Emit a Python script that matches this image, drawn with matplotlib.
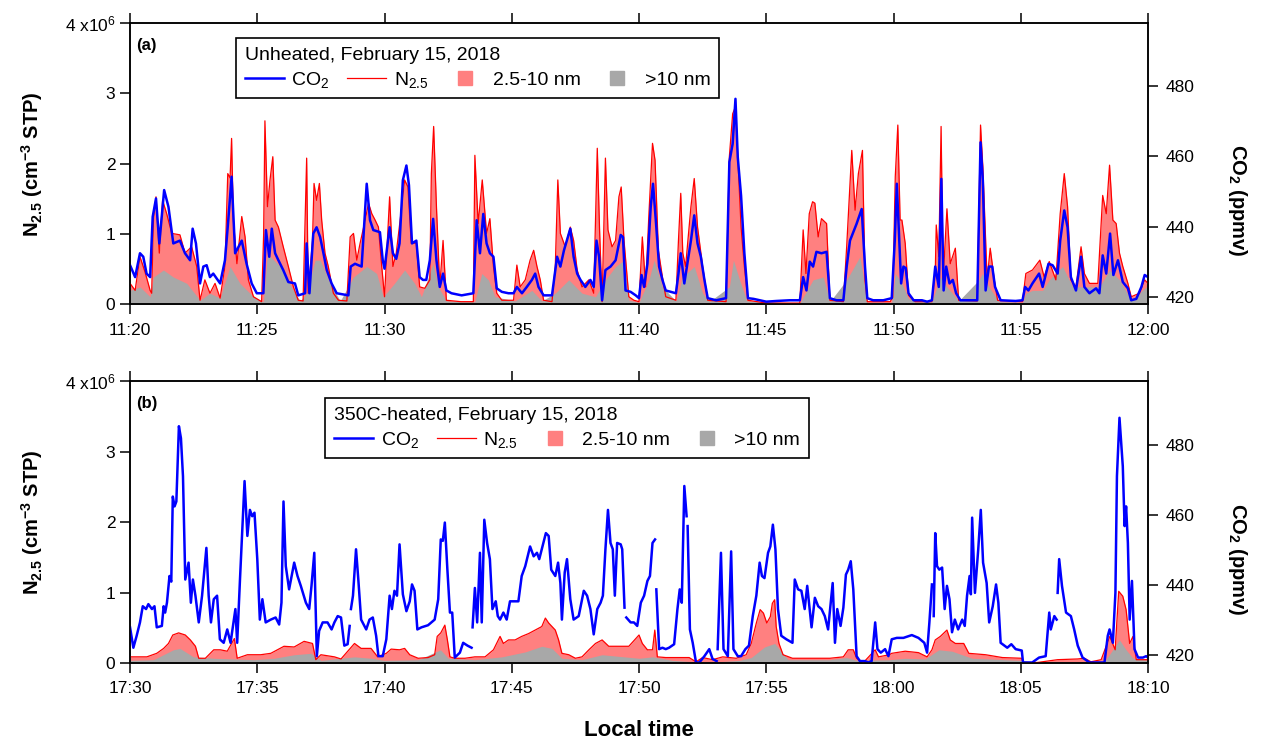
import numpy as np
import matplotlib
matplotlib.use("Agg")
import matplotlib.pyplot as plt
from matplotlib.lines import Line2D
from matplotlib.ticker import FuncFormatter, MultipleLocator

plt.rcParams['font.family'] = ['Liberation Sans', 'DejaVu Sans']
plt.rcParams['mathtext.fontset'] = 'custom'
plt.rcParams['mathtext.rm'] = 'Liberation Sans'
plt.rcParams['mathtext.bf'] = 'Liberation Sans:bold'
plt.rcParams['mathtext.default'] = 'regular'

NA = float('nan')

# (minutes after panel start, value); CO2 in ppmv, number conc. in 1e6 cm-3 STP
START_A = (11, 20)
START_B = (17, 30)
TITLE_A = "Unheated, February 15, 2018"
TITLE_B = "350C-heated, February 15, 2018"

CO2_A = [
    (0, 429.0), (0.20, 425.6), (0.39, 432.4), (0.52, 431.4), (0.65, 426.6), (0.79, 425.6),
    (0.89, 442.8), (1.02, 448.0), (1.15, 435.2), (1.34, 450.4), (1.51, 445.6), (1.70, 435.2),
    (1.96, 436.0), (2.16, 432.4), (2.36, 430.4), (2.46, 439.4), (2.59, 435.2), (2.75, 423.8),
    (2.88, 428.6), (3.01, 429.0), (3.14, 425.6), (3.27, 426.6), (3.54, 423.8), (3.73, 430.4),
    (3.86, 441.8), (3.99, 454.2), (4.13, 432.4), (4.39, 436.0), (4.58, 429.4), (4.78, 423.8),
    (4.98, 421.0), (5.24, 421.0), (5.34, 439.0), (5.47, 431.4), (5.57, 439.4), (5.70, 432.4),
    (5.83, 430.4), (6.02, 427.6), (6.22, 424.2), (6.48, 423.8), (6.61, 420.4), (6.88, 421.0),
    (6.94, 435.2), (7.05, 421.0), (7.20, 438.0), (7.33, 439.8), (7.47, 437.0), (7.60, 432.4),
    (7.73, 427.6), (7.92, 423.8), (8.12, 421.0), (8.58, 420.4), (8.67, 428.6), (8.84, 429.4),
    (9.10, 428.6), (9.30, 452.2), (9.43, 441.8), (9.56, 439.0), (9.82, 438.4), (9.93, 430.4),
    (10.0, 428.0), (10.2, 439.8), (10.33, 432.4), (10.46, 430.8), (10.59, 435.2), (10.72, 453.2),
    (10.86, 457.4), (10.96, 451.8), (11.08, 435.2), (11.25, 436.0), (11.38, 425.6), (11.51, 424.8),
    (11.64, 424.8), (11.78, 430.4), (11.91, 442.2), (12.04, 430.4), (12.17, 422.8), (12.30, 426.6),
    (12.43, 421.8), (12.63, 421.0), (13.03, 420.4), (13.49, 421.0), (13.62, 441.8), (13.75, 432.4),
    (13.88, 443.6), (14.01, 435.2), (14.14, 432.4), (14.28, 431.4), (14.41, 422.4), (14.61, 421.4),
    (14.87, 421.0), (15.07, 421.0), (15.20, 422.8), (15.40, 421.0), (15.59, 422.8), (15.79, 424.8),
    (15.92, 426.6), (16.05, 422.8), (16.25, 420.4), (16.58, 420.4), (16.78, 431.4), (16.91, 428.6),
    (17.05, 433.2), (17.30, 439.4), (17.43, 431.4), (17.57, 426.6), (17.70, 424.8), (17.89, 422.8),
    (18.09, 424.8), (18.22, 422.8), (18.33, 436.0), (18.43, 431.4), (18.55, 419.0), (18.68, 427.6),
    (18.88, 428.6), (19.08, 430.4), (19.28, 437.6), (19.37, 437.0), (19.47, 421.8), (19.67, 421.4),
    (19.87, 420.4), (20.0, 419.6), (20.1, 426.2), (20.2, 422.8), (20.33, 429.4), (20.46, 445.6),
    (20.55, 452.2), (20.66, 441.8), (20.79, 428.6), (20.92, 424.8), (21.05, 421.8), (21.25, 421.4),
    (21.45, 421.0), (21.55, 426.6), (21.64, 432.4), (21.78, 423.8), (21.90, 429.4), (22.04, 436.0),
    (22.17, 443.2), (22.30, 435.2), (22.43, 431.4), (22.57, 424.8), (22.70, 419.6), (23.03, 419.0),
    (23.42, 419.6), (23.55, 458.4), (23.68, 463.6), (23.79, 476.4), (23.88, 459.8), (24.01, 448.8),
    (24.14, 432.4), (24.28, 419.6), (24.5, 419.4), (25.0, 418.6), (25.4, 418.8), (25.92, 419.0),
    (26.32, 419.0), (26.45, 425.6), (26.58, 421.8), (26.71, 430.0), (26.84, 428.6), (26.97, 432.8),
    (27.17, 432.4), (27.37, 432.8), (27.50, 419.6), (27.76, 419.0), (28.03, 419.0), (28.16, 428.6),
    (28.29, 436.0), (28.45, 439.0), (28.55, 440.8), (28.75, 445.0), (28.88, 428.6), (28.97, 419.6),
    (29.2, 419.0), (29.6, 419.0), (29.93, 419.6), (30.05, 436.0), (30.13, 452.2), (30.22, 437.0),
    (30.30, 423.8), (30.39, 428.6), (30.48, 428.2), (30.59, 421.0), (30.79, 419.0), (31.12, 419.0),
    (31.32, 418.6), (31.51, 419.0), (31.64, 428.6), (31.78, 422.8), (31.88, 453.6), (31.97, 421.8),
    (32.07, 428.6), (32.20, 423.8), (32.33, 424.8), (32.46, 421.0), (32.63, 419.0), (33.09, 419.0),
    (33.29, 419.0), (33.42, 464.0), (33.51, 453.2), (33.62, 421.8), (33.75, 428.6), (33.88, 428.6),
    (33.99, 422.8), (34.21, 419.0), (34.8, 418.8), (35.07, 419.0), (35.17, 422.8), (35.30, 421.8),
    (35.46, 423.8), (35.72, 426.6), (35.86, 422.8), (36.09, 429.4), (36.25, 429.0), (36.45, 426.6),
    (36.55, 436.0), (36.71, 444.6), (36.84, 439.8), (36.97, 425.6), (37.17, 421.8), (37.37, 431.4),
    (37.50, 422.8), (37.70, 421.0), (37.96, 422.4), (38.09, 421.0), (38.22, 431.8), (38.36, 426.6),
    (38.51, 438.0), (38.64, 426.2), (38.82, 430.4), (39.01, 424.2), (39.21, 422.4), (39.34, 419.0),
    (39.54, 419.4), (39.74, 422.8), (39.87, 426.2), (40.0, 425.6),
]

N25_A = [
    (0, 0.30), (0.2, 0.20), (0.39, 0.68), (0.59, 0.46), (0.79, 0.20), (0.85, 0.16), (0.92, 1.20),
    (1.02, 1.53), (1.15, 0.73), (1.28, 1.48), (1.44, 1.29), (1.64, 1.01), (1.96, 0.99), (2.16, 0.73),
    (2.42, 0.82), (2.62, 0.54), (2.75, 0.06), (2.94, 0.35), (3.14, 0.16), (3.34, 0.30), (3.54, 0.09),
    (3.73, 0.54), (3.84, 1.86), (3.93, 1.80), (3.99, 2.36), (4.06, 1.20), (4.20, 0.58), (4.39, 1.25),
    (4.52, 0.96), (4.65, 0.35), (4.85, 0.11), (5.17, 0.04), (5.25, 1.00), (5.30, 2.61), (5.40, 1.39),
    (5.50, 1.77), (5.61, 2.10), (5.70, 1.20), (5.83, 1.10), (6.02, 0.82), (6.22, 0.54), (6.42, 0.25),
    (6.61, 0.06), (6.80, 0.05), (6.94, 2.08), (7.00, 0.16), (7.17, 0.91), (7.23, 1.72), (7.33, 1.48),
    (7.44, 1.72), (7.53, 1.20), (7.66, 0.73), (7.79, 0.54), (7.99, 0.16), (8.19, 0.06), (8.52, 0.05),
    (8.65, 0.96), (8.78, 1.01), (8.91, 0.63), (9.04, 0.87), (9.24, 1.20), (9.37, 1.44), (9.50, 1.29),
    (9.63, 1.20), (9.76, 1.10), (9.89, 0.54), (10.0, 0.11), (10.2, 1.53), (10.33, 0.54), (10.46, 0.73),
    (10.66, 1.34), (10.79, 1.77), (10.92, 1.67), (11.05, 0.87), (11.25, 0.87), (11.38, 0.25),
    (11.58, 0.23), (11.78, 0.35), (11.84, 1.86), (11.93, 2.53), (12.04, 1.39), (12.17, 0.25),
    (12.30, 0.91), (12.43, 0.06), (13.0, 0.04), (13.49, 0.04), (13.55, 2.12), (13.68, 1.15),
    (13.84, 1.77), (14.01, 1.01), (14.14, 1.22), (14.28, 0.54), (14.41, 0.16), (14.61, 0.06),
    (15.07, 0.06), (15.20, 0.56), (15.33, 0.25), (15.53, 0.35), (15.72, 0.63), (15.86, 0.77),
    (15.99, 0.54), (16.12, 0.35), (16.25, 0.06), (16.58, 0.04), (16.71, 0.54), (16.81, 1.77),
    (16.91, 1.01), (17.10, 0.82), (17.30, 1.10), (17.43, 0.91), (17.57, 0.49), (17.76, 0.25),
    (18.03, 0.35), (18.22, 0.16), (18.36, 2.22), (18.45, 1.06), (18.55, 0.04), (18.68, 2.08),
    (18.78, 1.06), (18.94, 0.82), (19.08, 0.91), (19.21, 1.53), (19.30, 1.67), (19.41, 0.91),
    (19.60, 0.11), (19.80, 0.06), (20.0, 0.04), (20.13, 0.96), (20.26, 0.25), (20.39, 1.29),
    (20.53, 2.29), (20.63, 2.05), (20.76, 0.77), (20.92, 0.39), (21.05, 0.11), (21.45, 0.06),
    (21.55, 0.91), (21.64, 1.58), (21.72, 0.73), (21.83, 0.54), (22.04, 1.39), (22.17, 1.79),
    (22.30, 1.10), (22.50, 0.54), (22.70, 0.06), (23.42, 0.04), (23.55, 2.10), (23.68, 2.71),
    (23.79, 2.81), (23.88, 2.10), (24.01, 1.10), (24.14, 0.54), (24.28, 0.06), (25.0, 0.02),
    (26.32, 0.02), (26.45, 1.06), (26.56, 0.44), (26.69, 1.29), (26.82, 1.46), (26.91, 1.44),
    (27.04, 0.96), (27.17, 1.22), (27.37, 1.15), (27.50, 0.06), (28.03, 0.04), (28.16, 0.82),
    (28.36, 2.19), (28.49, 1.34), (28.62, 1.86), (28.78, 2.19), (28.88, 0.35), (28.97, 0.04),
    (29.87, 0.04), (29.97, 0.10), (30.07, 1.82), (30.17, 2.55), (30.26, 1.20), (30.33, 1.20),
    (30.46, 0.87), (30.59, 0.13), (30.85, 0.04), (31.51, 0.04), (31.64, 0.44), (31.68, 1.13),
    (31.78, 0.68), (31.87, 2.53), (31.95, 0.35), (32.10, 1.36), (32.23, 0.58), (32.43, 0.80),
    (32.56, 0.06), (33.29, 0.05), (33.42, 2.55), (33.51, 1.96), (33.68, 0.35), (33.80, 0.80),
    (33.96, 0.35), (34.09, 0.06), (35.07, 0.04), (35.20, 0.44), (35.46, 0.49), (35.75, 0.63),
    (35.92, 0.39), (36.12, 0.61), (36.38, 0.35), (36.55, 1.29), (36.71, 1.86), (36.84, 1.39),
    (36.97, 0.35), (37.17, 0.25), (37.37, 0.82), (37.50, 0.44), (37.70, 0.30), (38.03, 0.30),
    (38.22, 1.55), (38.36, 1.29), (38.49, 1.98), (38.62, 1.20), (38.75, 1.15), (38.88, 0.73),
    (39.01, 0.54), (39.21, 0.30), (39.34, 0.11), (39.67, 0.16), (39.87, 0.35), (40.0, 0.30),
]

N10_A = [
    (0, 0.20), (0.39, 0.25), (0.79, 0.11), (0.92, 0.39), (1.31, 0.49), (1.70, 0.39), (2.23, 0.30),
    (2.75, 0.06), (3.14, 0.16), (3.54, 0.09), (3.93, 0.54), (4.32, 0.30), (4.85, 0.11), (5.24, 0.04),
    (5.40, 0.72), (5.90, 0.54), (6.42, 0.20), (6.68, 0.05), (6.94, 0.16), (7.27, 0.63), (7.47, 0.63),
    (7.86, 0.30), (8.26, 0.05), (8.78, 0.39), (9.30, 0.54), (9.69, 0.44), (9.95, 0.11), (10.39, 0.30),
    (10.79, 0.49), (11.18, 0.30), (11.45, 0.11), (11.91, 0.58), (12.11, 0.25), (12.43, 0.05),
    (13.55, 0.04), (13.82, 0.44), (14.08, 0.35), (14.34, 0.11), (15.13, 0.05), (15.79, 0.20),
    (16.18, 0.05), (16.71, 0.16), (17.24, 0.35), (17.76, 0.16), (18.29, 0.11), (18.68, 0.35),
    (19.08, 0.54), (19.41, 0.63), (19.60, 0.06), (20.0, 0.03), (20.39, 0.35), (20.59, 0.63),
    (20.92, 0.25), (21.45, 0.05), (21.71, 0.39), (22.17, 0.54), (22.50, 0.16), (22.76, 0.04),
    (23.55, 0.25), (23.71, 0.63), (23.95, 0.35), (24.24, 0.05), (26.32, 0.02), (26.84, 0.35),
    (27.24, 0.39), (27.50, 0.04), (28.16, 0.35), (28.68, 0.68), (28.97, 0.03), (29.93, 0.03),
    (30.07, 0.44), (30.33, 0.30), (30.59, 0.08), (31.51, 0.04), (31.84, 0.39), (32.10, 0.25),
    (32.56, 0.05), (33.36, 0.35), (33.49, 0.44), (33.75, 0.25), (34.14, 0.04), (35.07, 0.03),
    (35.20, 0.16), (35.46, 0.20), (35.86, 0.20), (36.12, 0.35), (36.64, 0.54), (37.04, 0.25),
    (37.57, 0.25), (38.09, 0.25), (38.49, 0.49), (38.88, 0.35), (39.34, 0.06), (39.93, 0.25),
    (40.0, 0.11),
]

CO2_B = [
    (0, 428.0), (0.13, 422.2), (0.26, 425.6), (0.39, 429.4), (0.50, 434.0), (0.63, 433.2),
    (0.72, 434.6), (0.86, 433.2), (0.96, 434.0), (1.05, 428.0), (1.25, 428.4), (1.32, 434.0),
    (1.38, 432.2), (1.45, 435.0), (1.55, 442.6), (1.62, 441.0), (1.68, 465.2), (1.75, 462.4),
    (1.82, 463.8), (1.92, 485.2), (2.00, 481.8), (2.08, 471.0), (2.17, 441.6), (2.30, 446.4),
    (2.39, 435.0), (2.47, 441.6), (2.57, 437.0), (2.70, 429.4), (2.83, 437.0), (3.00, 450.6),
    (3.09, 437.0), (3.18, 429.4), (3.29, 436.0), (3.42, 437.0), (3.53, 424.6), (3.68, 423.6),
    (3.82, 427.4), (3.95, 423.6), (4.14, 433.2), (4.21, 423.6), (4.32, 441.6), (4.50, 469.6),
    (4.61, 454.0), (4.71, 461.4), (4.80, 459.6), (4.89, 460.6), (5.00, 447.4), (5.10, 430.2),
    (5.20, 436.0), (5.33, 429.4), (5.53, 430.2), (5.72, 430.8), (5.86, 428.8), (5.95, 435.0),
    (6.03, 463.8), (6.12, 445.4), (6.25, 438.8), (6.45, 446.4), (6.58, 442.6), (6.71, 439.8),
    (6.91, 435.0), (7.04, 433.2), (7.13, 439.8), (7.24, 449.2), (7.34, 419.8), (7.43, 427.0),
    (7.57, 429.4), (7.76, 429.4), (7.92, 427.4), (8.03, 429.4), (8.16, 431.2), (8.29, 430.8),
    (8.42, 422.8), (8.55, 423.2), (8.63, 428.4), (8.65, NA),
    (8.68, 433.2), (8.76, 437.0), (8.88, 450.2), (8.97, 441.6), (9.08, 430.2), (9.28, 427.4),
    (9.41, 430.2), (9.54, 430.8), (9.67, 425.6), (9.76, 419.8), (9.93, 419.8), (10.07, 424.6),
    (10.20, 437.0), (10.29, 433.2), (10.39, 438.4), (10.49, 437.0), (10.59, 451.6), (10.72, 437.4),
    (10.86, 432.6), (10.99, 435.4), (11.08, 440.2), (11.18, 438.4), (11.29, 427.4), (11.45, 428.0),
    (11.71, 428.6), (11.97, 430.2), (12.11, 436.0), (12.21, 453.0), (12.29, 452.6), (12.37, 457.8),
    (12.47, 444.4), (12.57, 432.2), (12.66, 432.2), (12.76, 419.4), (12.96, 420.8), (13.09, 423.6),
    (13.26, 422.8), (13.42, 422.2), (13.44, NA),
    (13.46, 428.0), (13.55, 439.2), (13.64, 429.4), (13.75, 449.2), (13.82, 429.4), (13.92, 458.6),
    (14.03, 452.0), (14.14, 447.4), (14.24, 433.2), (14.37, 435.4), (14.45, 431.2), (14.54, 430.2),
    (14.67, 432.2), (14.80, 430.2), (14.93, 435.4), (15.13, 435.4), (15.26, 435.4), (15.39, 442.6),
    (15.53, 445.4), (15.72, 451.0), (15.86, 448.2), (15.99, 449.2), (16.08, 447.4), (16.18, 450.2),
    (16.34, 454.8), (16.45, 454.0), (16.55, 444.4), (16.71, 442.6), (16.82, 446.4), (16.91, 440.6),
    (16.97, 430.2), (17.08, 443.6), (17.17, 447.4), (17.30, 436.0), (17.43, 430.2), (17.63, 431.2),
    (17.83, 438.4), (17.96, 437.0), (18.09, 433.2), (18.22, 426.0), (18.36, 433.2), (18.49, 435.0),
    (18.58, 437.0), (18.68, 450.2), (18.78, 461.4), (18.88, 452.0), (18.97, 450.2), (19.05, 437.0),
    (19.14, 452.0), (19.28, 451.6), (19.34, 450.2), (19.43, 433.6), (19.46, NA),
    (19.50, 430.8), (19.67, 429.4), (19.80, 429.4), (19.93, 428.4), (20.07, 435.0), (20.20, 437.0),
    (20.33, 441.2), (20.43, 442.6), (20.53, 452.0), (20.63, 453.0), (20.65, NA),
    (20.68, 438.8), (20.79, 421.8), (20.92, 422.2), (21.05, 421.8), (21.18, 422.2), (21.38, 423.2),
    (21.51, 433.2), (21.60, 438.8), (21.68, 435.0), (21.78, 468.2), (21.87, 459.6), (21.89, NA),
    (21.91, 456.8), (22.00, 427.4), (22.11, 423.6), (22.24, 418.0), (22.37, 418.0), (22.57, 419.8),
    (22.76, 421.8), (22.89, 419.0), (23.05, 418.4), (23.07, NA),
    (23.09, 421.8), (23.22, 449.2), (23.32, 421.8), (23.49, 419.8), (23.62, 449.6), (23.71, 421.8),
    (23.88, 419.8), (24.01, 419.8), (24.18, 421.8), (24.32, 422.8), (24.47, 431.2), (24.61, 437.0),
    (24.74, 446.4), (24.83, 442.6), (24.93, 442.0), (25.07, 449.2), (25.16, 451.0), (25.26, 457.2),
    (25.36, 450.2), (25.46, 433.2), (25.59, 425.6), (25.79, 424.6), (26.03, 423.6), (26.12, 441.6),
    (26.25, 438.8), (26.38, 438.4), (26.51, 433.2), (26.61, 439.8), (26.78, 428.0), (26.91, 436.4),
    (27.04, 434.0), (27.17, 433.2), (27.30, 431.2), (27.43, 427.4), (27.61, 440.6), (27.70, 423.6),
    (27.79, 433.2), (27.92, 428.4), (28.03, 433.6), (28.13, 443.0), (28.22, 444.4), (28.32, 446.8),
    (28.42, 438.8), (28.55, 419.8), (28.68, 418.4), (28.88, 418.4), (29.01, 418.0), (29.14, 418.4),
    (29.28, 429.4), (29.37, 421.8), (29.50, 420.8), (29.67, 421.8), (29.80, 419.8), (29.93, 424.6),
    (30.13, 425.0), (30.39, 425.0), (30.72, 425.8), (30.98, 425.0), (31.21, 423.6), (31.32, 420.8),
    (31.41, 429.4), (31.51, 440.2), (31.54, NA),
    (31.58, 431.2), (31.64, 454.8), (31.71, 445.4), (31.80, 444.4), (31.91, 445.0), (32.01, 433.2),
    (32.10, 439.8), (32.20, 436.0), (32.30, 426.6), (32.41, 430.2), (32.54, 427.4), (32.70, 430.2),
    (32.80, 428.4), (32.89, 437.0), (32.99, 442.6), (33.04, 437.4), (33.09, 459.2), (33.20, 437.8),
    (33.33, 450.2), (33.43, 461.4), (33.52, 446.4), (33.66, 440.6), (33.76, 429.4), (33.90, 434.0),
    (34.03, 440.2), (34.12, 435.0), (34.21, 423.6), (34.47, 422.2), (34.63, 423.2), (34.80, 421.8),
    (35.04, 421.4), (35.09, 418.0), (35.45, 418.0), (35.72, 419.4), (35.98, 419.8), (36.12, 432.2),
    (36.18, 427.4), (36.32, 431.2), (36.41, 430.2), (36.43, NA),
    (36.45, 437.8), (36.51, 447.4), (36.62, 439.8), (36.78, 432.2), (36.97, 431.2), (37.10, 427.4),
    (37.24, 422.8), (37.43, 419.4), (37.70, 418.0), (38.29, 418.0), (38.42, 425.6), (38.49, 427.4),
    (38.62, 423.6), (38.72, 437.8), (38.78, 471.0), (38.88, 487.6), (39.01, 473.8), (39.08, 456.8),
    (39.14, 462.4), (39.21, 452.0), (39.28, 430.2), (39.37, 441.2), (39.47, 421.8), (39.61, 419.4),
    (39.80, 419.4), (39.93, 419.8), (40.0, 419.4),
]

N25_B = [
    (0, 0.09), (0.66, 0.09), (1.05, 0.14), (1.32, 0.21), (1.51, 0.28), (1.68, 0.40), (1.91, 0.43),
    (2.17, 0.40), (2.37, 0.33), (2.57, 0.24), (2.70, 0.07), (2.96, 0.07), (3.29, 0.19), (3.55, 0.19),
    (3.82, 0.17), (4.10, 0.35), (4.21, 0.07), (4.61, 0.12), (5.13, 0.12), (5.53, 0.14), (6.05, 0.24),
    (6.45, 0.23), (6.84, 0.31), (7.17, 0.28), (7.30, 0.05), (7.50, 0.12), (8.03, 0.09), (8.29, 0.06),
    (8.82, 0.28), (9.08, 0.21), (9.47, 0.21), (9.73, 0.09), (10.07, 0.14), (10.26, 0.20), (10.59, 0.19),
    (10.79, 0.21), (10.99, 0.12), (11.32, 0.07), (11.71, 0.08), (11.97, 0.12), (12.07, 0.38),
    (12.21, 0.43), (12.37, 0.54), (12.47, 0.33), (12.57, 0.09), (12.76, 0.07), (13.16, 0.07),
    (13.55, 0.09), (13.95, 0.09), (14.28, 0.19), (14.54, 0.38), (14.67, 0.28), (14.87, 0.33),
    (15.13, 0.33), (15.39, 0.38), (15.66, 0.42), (15.92, 0.47), (16.18, 0.52), (16.32, 0.64),
    (16.45, 0.57), (16.71, 0.47), (16.84, 0.33), (16.97, 0.14), (17.24, 0.12), (17.50, 0.07),
    (17.76, 0.09), (18.03, 0.19), (18.29, 0.28), (18.55, 0.33), (18.81, 0.24), (19.08, 0.24),
    (19.6, 0.24), (20.0, 0.40), (20.13, 0.28), (20.33, 0.19), (20.53, 0.19), (20.62, 0.47),
    (20.72, 0.09), (21.05, 0.08), (21.97, 0.08), (22.24, 0.02), (22.50, 0.08), (22.89, 0.05),
    (23.29, 0.09), (23.82, 0.07), (24.21, 0.12), (24.41, 0.28), (24.61, 0.57), (24.76, 0.76),
    (24.89, 0.71), (25.02, 0.57), (25.16, 0.66), (25.24, 0.85), (25.33, 0.90), (25.39, 0.52),
    (25.50, 0.28), (25.66, 0.12), (26.03, 0.07), (26.84, 0.07), (27.50, 0.07), (28.03, 0.09),
    (28.22, 0.19), (28.42, 0.19), (28.55, 0.07), (28.82, 0.01), (29.28, 0.19), (29.41, 0.09),
    (29.84, 0.12), (29.93, 0.14), (30.46, 0.17), (30.98, 0.15), (31.32, 0.09), (31.51, 0.19),
    (31.64, 0.33), (31.84, 0.38), (32.10, 0.47), (32.23, 0.33), (32.43, 0.28), (32.76, 0.28),
    (32.96, 0.14), (33.62, 0.12), (34.28, 0.08), (35.04, 0.07), (35.09, 0.01), (35.65, 0.01),
    (36.45, 0.05), (37.24, 0.06), (37.50, 0.07), (37.76, 0.02), (38.16, 0.05), (38.50, 0.38),
    (38.71, 0.19), (38.85, 1.02), (39.01, 0.95), (39.14, 0.76), (39.28, 0.28), (39.41, 0.38),
    (39.54, 0.05), (40.0, 0.05),
]

N10_B = [
    (0, 0.04), (0.92, 0.05), (1.70, 0.19), (1.96, 0.21), (2.49, 0.09), (3.29, 0.07), (4.87, 0.05),
    (5.66, 0.07), (6.45, 0.12), (7.11, 0.14), (7.50, 0.04), (8.82, 0.09), (9.47, 0.07), (10.0, 0.04),
    (11.32, 0.05), (12.20, 0.19), (12.50, 0.07), (13.55, 0.05), (14.61, 0.09), (15.53, 0.16),
    (16.18, 0.24), (16.58, 0.21), (16.97, 0.07), (17.76, 0.05), (18.55, 0.12), (20.0, 0.07),
    (20.53, 0.09), (21.32, 0.04), (22.63, 0.01), (23.95, 0.04), (24.41, 0.08), (24.93, 0.23),
    (25.33, 0.28), (25.53, 0.19), (25.86, 0.05), (27.50, 0.05), (28.16, 0.08), (28.55, 0.04),
    (29.86, 0.05), (30.46, 0.07), (31.25, 0.06), (31.78, 0.19), (32.30, 0.17), (33.09, 0.07),
    (35.04, 0.04), (35.72, 0.01), (38.29, 0.02), (38.88, 0.33), (39.14, 0.19), (39.41, 0.07),
    (40.0, 0.04),
]

PINK = '#ff8080'
GRAY = '#a8a8a8'


def clock(start, minutes):
    total = start[0] * 60 + start[1] + int(round(minutes))
    return "%d:%02d" % (total // 60, total % 60)


def left_fmt(v, pos):
    if abs(v - 4) < 1e-6:
        return r'4 x10$^{6}$'
    return "%d" % round(v)


def draw_panel(ax, start, co2, n25, n10, title, tag, legend_xy):
    t25, v25 = np.array(n25).T
    t10, v10 = np.array(n10).T
    tc, vc = np.array(co2).T

    ax.fill_between(t25, 0, v25, color=PINK, lw=0, zorder=1)
    ax.fill_between(t10, 0, v10, color=GRAY, lw=0, zorder=2)
    ax.plot(t25, v25, color='#ff0000', lw=0.9, zorder=3)

    ax.set_xlim(0, 40)
    ax.set_ylim(0, 4)
    ax.xaxis.set_major_locator(MultipleLocator(5))
    ax.xaxis.set_major_formatter(FuncFormatter(lambda m, pos: clock(start, m)))
    ax.yaxis.set_major_locator(MultipleLocator(1))
    ax.yaxis.set_major_formatter(FuncFormatter(left_fmt))
    ax.tick_params(axis='x', direction='out', top=True, labeltop=False,
                   length=7, width=1.1, labelsize=12.5, pad=6)
    ax.tick_params(axis='y', direction='out', right=False, length=7, width=1.1, labelsize=12.5)
    ax.set_ylabel(r'$\mathbf{N_{2.5}}$ (cm$^{\mathbf{-3}}$ STP)', fontweight='bold',
                  fontsize=14.5, labelpad=14)
    ax.text(0.006, 0.905, tag, transform=ax.transAxes, fontweight='bold', fontsize=12)

    ax2 = ax.twinx()
    ax2.plot(tc, vc, color='#0000ff', lw=1.8)
    ax2.set_ylim(417.8, 498)
    ax2.set_yticks([420, 440, 460, 480])
    ax2.tick_params(axis='y', direction='out', length=7, width=1.1, labelsize=12.5, pad=6)
    ax2.set_ylabel(r'$\mathbf{CO_2}$ (ppmv)', rotation=-90, va='bottom', fontweight='bold',
                   fontsize=14.5)
    ax2.yaxis.set_label_coords(1.077, 0.37)
    for a in (ax, ax2):
        for s in a.spines.values():
            s.set_linewidth(1.1)

    handles = [Line2D([], [], color='#0000ff', lw=1.8),
               Line2D([], [], color='#ff0000', lw=0.9),
               Line2D([], [], ls='none', marker='s', markersize=10, color=PINK),
               Line2D([], [], ls='none', marker='s', markersize=10, color=GRAY)]
    labels = ['CO$_2$', 'N$_{2.5}$', '2.5-10 nm', '>10 nm']
    leg = ax2.legend(handles, labels, title=title, ncol=4, loc='upper left',
                     bbox_to_anchor=legend_xy, borderaxespad=0, fancybox=False,
                     edgecolor='black', framealpha=1, fontsize=14, title_fontsize=14,
                     alignment='left', handlelength=2.0, handletextpad=0.4,
                     columnspacing=0.9, borderpad=0.45, labelspacing=0.3)
    leg.get_frame().set_linewidth(1.2)
    return ax2


fig = plt.figure(figsize=(12.65, 7.45), dpi=100)
ax_a = fig.add_axes([0.1028, 0.5913, 0.8047, 0.3778])
ax_b = fig.add_axes([0.1028, 0.1098, 0.8047, 0.3785])

draw_panel(ax_a, START_A, CO2_A, N25_A, N10_A, TITLE_A, '(a)', (0.104, 0.947))
draw_panel(ax_b, START_B, CO2_B, N25_B, N10_B, TITLE_B, '(b)', (0.192, 0.94))
ax_b.set_xlabel('Local time', fontweight='bold', fontsize=16, labelpad=17)

fig.savefig('out.png', dpi=100)
